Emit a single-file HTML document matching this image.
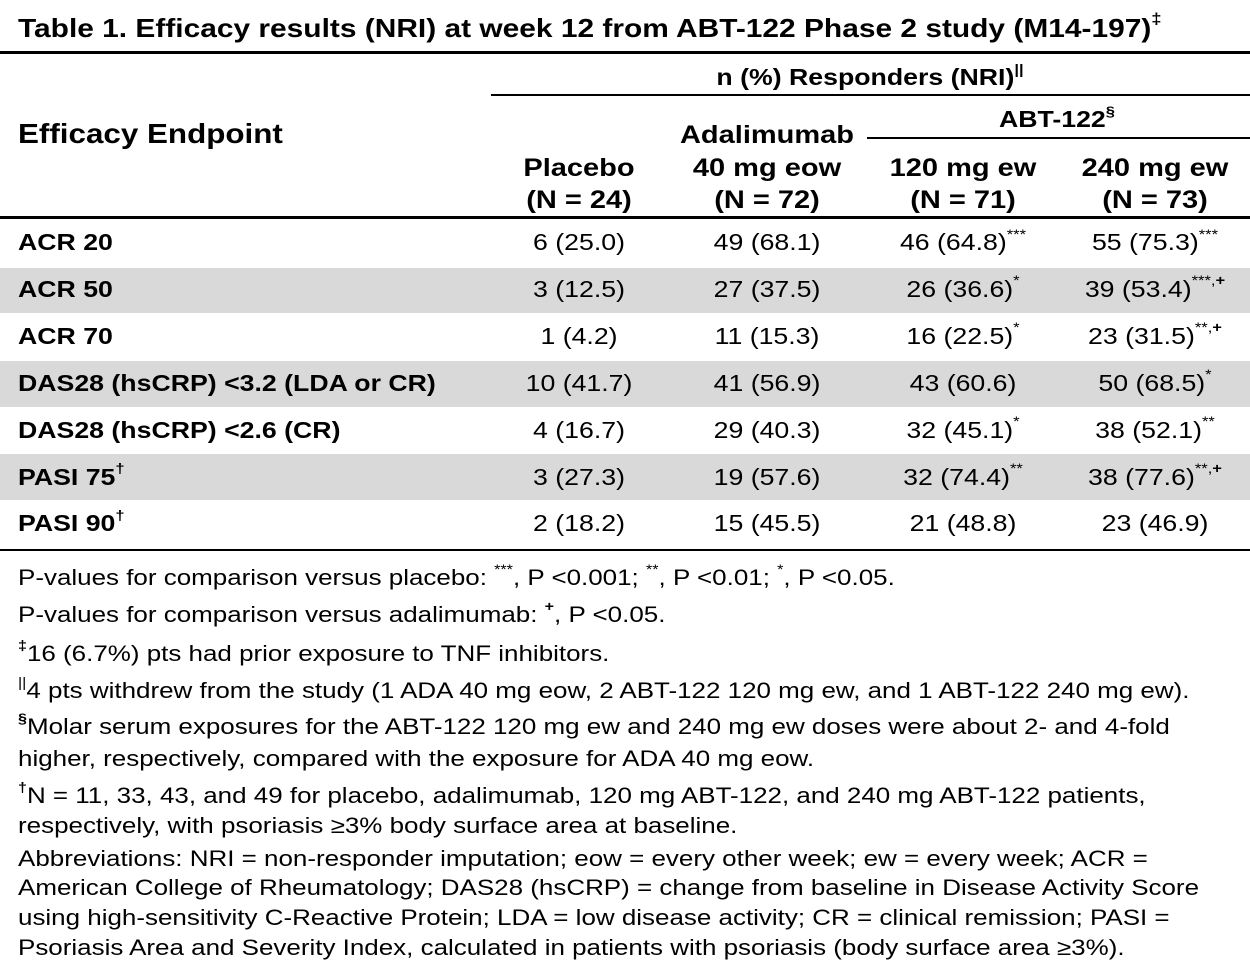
<!DOCTYPE html>
<html><head><meta charset="utf-8"><style>
body{margin:0;width:1250px;height:963px;background:#fff;position:relative;overflow:hidden;font-family:"Liberation Sans",Arial,sans-serif;color:#000}
.t{position:absolute;white-space:nowrap;line-height:30px;height:30px;transform:scaleX(1.16);transform-origin:0 50%}
.b{font-weight:bold}
.c{transform:translateX(-50%) scaleX(1.16);transform-origin:50% 50%}
.line{position:absolute;background:#000}
.band{position:absolute;left:0;width:1250px;background:#d9d9d9}
sup{font-size:62%;vertical-align:0;position:relative;top:-0.8em}
.v{font-size:23px}
.f{font-size:22px;left:18px;transform:scaleX(1.18)}
</style></head><body>
<div class="t b" style="left:18px;top:13px;font-size:26px;transform:scaleX(1.15)">Table 1. Efficacy results (NRI) at week 12 from ABT-122 Phase 2 study (M14-197)<sup>‡</sup></div>
<div class="line" style="left:0;top:51px;width:1250px;height:3px"></div>
<div class="t b c" style="left:870px;top:62px;font-size:23px">n (%) Responders (NRI)<sup>||</sup></div>
<div class="line" style="left:491px;top:94px;width:759px;height:2px"></div>
<div class="t b c" style="left:1057px;top:104px;font-size:23px">ABT-122<sup>§</sup></div>
<div class="line" style="left:867px;top:137px;width:383px;height:2px"></div>
<div class="t b" style="left:18px;top:119px;font-size:28px;transform:scaleX(1.12)">Efficacy Endpoint</div>
<div class="t b c" style="left:579px;top:153px;font-size:25px">Placebo</div>
<div class="t b c" style="left:579px;top:185px;font-size:25px">(N = 24)</div>
<div class="t b c" style="left:767px;top:120px;font-size:25px">Adalimumab</div>
<div class="t b c" style="left:767px;top:153px;font-size:25px">40 mg eow</div>
<div class="t b c" style="left:767px;top:185px;font-size:25px">(N = 72)</div>
<div class="t b c" style="left:963px;top:153px;font-size:25px">120 mg ew</div>
<div class="t b c" style="left:963px;top:185px;font-size:25px">(N = 71)</div>
<div class="t b c" style="left:1155px;top:153px;font-size:25px">240 mg ew</div>
<div class="t b c" style="left:1155px;top:185px;font-size:25px">(N = 73)</div>
<div class="line" style="left:0;top:216px;width:1250px;height:3px"></div>
<div class="band" style="top:268px;height:45px"></div>
<div class="band" style="top:361px;height:46px"></div>
<div class="band" style="top:454px;height:46px"></div>
<div id="rows"></div>
<div class="line" style="left:0;top:549px;width:1250px;height:2px"></div>
<div class="t f" style="top:563px">P-values for comparison versus placebo: <sup>***</sup>, P &lt;0.001; <sup>**</sup>, P &lt;0.01; <sup>*</sup>, P &lt;0.05.</div>
<div class="t f" style="top:600px">P-values for comparison versus adalimumab: <sup><b>+</b></sup>, P &lt;0.05.</div>
<div class="t f" style="top:639px"><sup><b>‡</b></sup>16 (6.7%) pts had prior exposure to TNF inhibitors.</div>
<div class="t f" style="top:676px"><sup>||</sup>4 pts withdrew from the study (1 ADA 40 mg eow, 2 ABT-122 120 mg ew, and 1 ABT-122 240 mg ew).</div>
<div class="t f" style="top:712px"><sup><b>§</b></sup>Molar serum exposures for the ABT-122 120 mg ew and 240 mg ew doses were about 2- and 4-fold</div>
<div class="t f" style="top:744px">higher, respectively, compared with the exposure for ADA 40 mg eow.</div>
<div class="t f" style="top:781px"><sup><b>†</b></sup>N = 11, 33, 43, and 49 for placebo, adalimumab, 120 mg ABT-122, and 240 mg ABT-122 patients,</div>
<div class="t f" style="top:811px">respectively, with psoriasis ≥3% body surface area at baseline.</div>
<div class="t f" style="top:844px">Abbreviations: NRI = non-responder imputation; eow = every other week; ew = every week; ACR =</div>
<div class="t f" style="top:873px">American College of Rheumatology; DAS28 (hsCRP) = change from baseline in Disease Activity Score</div>
<div class="t f" style="top:903px">using high-sensitivity C-Reactive Protein; LDA = low disease activity; CR = clinical remission; PASI =</div>
<div class="t f" style="top:933px">Psoriasis Area and Severity Index, calculated in patients with psoriasis (body surface area ≥3%).</div>
<script>
const endpoints=["ACR 20","ACR 50","ACR 70","DAS28 (hsCRP) <3.2 (LDA or CR)","DAS28 (hsCRP) <2.6 (CR)","PASI 75†","PASI 90†"];
const placebo=["6 (25.0)","3 (12.5)","1 (4.2)","10 (41.7)","4 (16.7)","3 (27.3)","2 (18.2)"];
const adalimumab=["49 (68.1)","27 (37.5)","11 (15.3)","41 (56.9)","29 (40.3)","19 (57.6)","15 (45.5)"];
const abt120=["46 (64.8)","26 (36.6)","16 (22.5)","43 (60.6)","32 (45.1)","32 (74.4)","21 (48.8)"];
const abt120sig=["***","*","*","","*","**",""];
const abt240=["55 (75.3)","39 (53.4)","23 (31.5)","50 (68.5)","38 (52.1)","38 (77.6)","23 (46.9)"];
const abt240sig=["***","***,+","**,+","*","**","**,+",""];
const rows=document.getElementById('rows');
function esc(s){return s.replace(/&/g,'&amp;').replace(/</g,'&lt;');}
function sig(s){return s?'<sup>'+esc(s).replace('+','<b>+</b>')+'</sup>':'';}
function add(name,html,left,top,cls){
 const d=document.createElement('div');
 d.className='t '+cls;
 d.style.left=left+'px';d.style.top=top+'px';
 d.innerHTML=html;
 
 
 rows.appendChild(d);
}
endpoints.forEach((e,i)=>{
 const cy=242+i*46.9;const top=cy-15;
 let lab=esc(e).replace('†','<sup>†</sup>');
 add('endpoint-label',lab,18,top,'b v');
 add('placebo-value',placebo[i],579,top,'v c');
 add('adalimumab-value',adalimumab[i],767,top,'v c');
 add('abt120-value',abt120[i]+sig(abt120sig[i]),963,top,'v c');
 add('abt240-value',abt240[i]+sig(abt240sig[i]),1155,top,'v c');
});
</script>
</body></html>
